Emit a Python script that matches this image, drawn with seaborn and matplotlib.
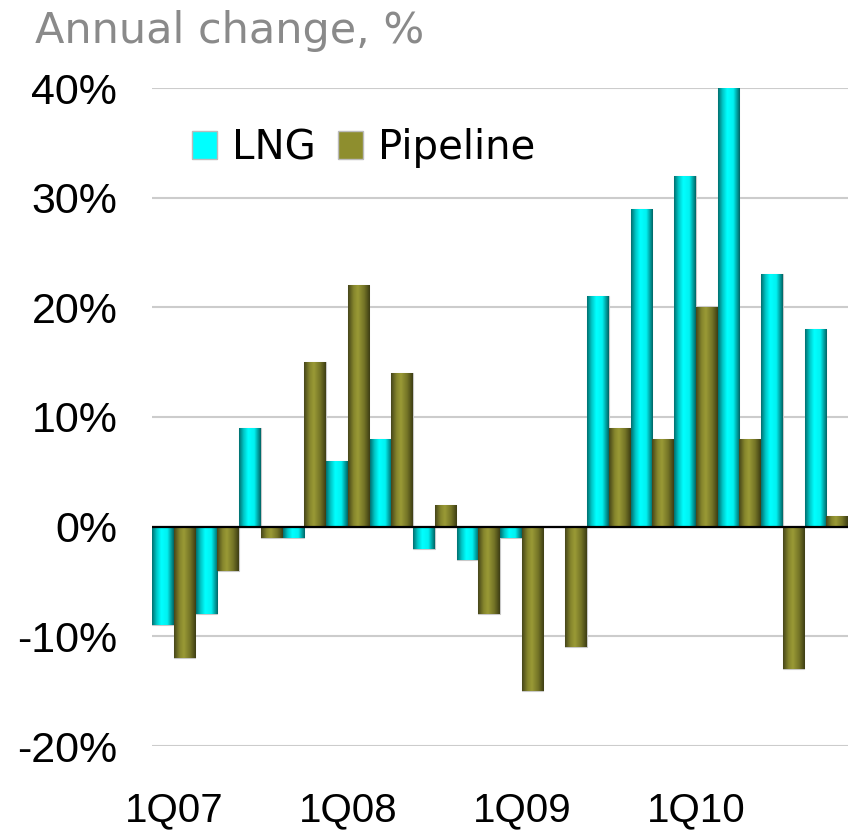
import numpy as np
import pandas as pd
import matplotlib
matplotlib.use('Agg')
import matplotlib.pyplot as plt
import seaborn as sns
from matplotlib.colors import LinearSegmentedColormap, to_rgb
from matplotlib.patches import Patch

quarters = ['1Q07', '2Q07', '3Q07', '4Q07', '1Q08', '2Q08', '3Q08', '4Q08',
            '1Q09', '2Q09', '3Q09', '4Q09', '1Q10', '2Q10', '3Q10', '4Q10']
lng = [-9, -8, 9, -1, 6, 8, -2, -3, -1, 0, 21, 29, 32, 40, 23, 18]
pipeline = [-12, -4, -1, 15, 22, 14, 2, -8, -15, -11, 9, 8, 20, 8, -13, 1]
series_names = ['LNG', 'Pipeline']
tick_positions = [0, 4, 8, 12]
tick_labels = ['1Q07', '1Q08', '1Q09', '1Q10']
yticks = [-20, -10, 0, 10, 20, 30, 40]

df = pd.DataFrame({
    'Quarter': quarters * 2,
    'Series': ['LNG'] * len(lng) + ['Pipeline'] * len(pipeline),
    'Change': lng + pipeline,
})

sns.set_style('white')
plt.rcParams['font.family'] = ['Liberation Sans', 'DejaVu Sans']
plt.rcParams['text.color'] = 'black'

base_cols = {'LNG': '#00FFFF', 'Pipeline': '#8E8E2E'}
cmaps = {
    'LNG': LinearSegmentedColormap.from_list('cy', [(0, '#007070'), (0.2, '#00C4C4'), (0.42, '#00FFFF'),
                                                    (0.7, '#00F2F2'), (1.0, '#006666')]),
    'Pipeline': LinearSegmentedColormap.from_list('ol', [(0, '#46461A'), (0.25, '#85852C'), (0.45, '#9A9A36'),
                                                         (0.75, '#737326'), (1.0, '#3E3E14')]),
}

fig = plt.figure(figsize=(8.55, 8.35), dpi=100)
ax = fig.add_axes([152 / 855, 1 - 746 / 835, 696 / 855, 658 / 835])

sns.barplot(data=df, x='Quarter', y='Change', hue='Series', hue_order=series_names,
            palette=base_cols, width=0.98, gap=0.0, saturation=1, legend=False,
            edgecolor='#c8c8c8', linewidth=0.8, ax=ax, zorder=3)

# cylindrical shading on each bar
for p in list(ax.patches):
    h = p.get_height()
    if h == 0:
        continue
    fc = np.array(p.get_facecolor()[:3])
    key = 'LNG' if np.allclose(fc, to_rgb(base_cols['LNG']), atol=0.05) else 'Pipeline'
    x0, y0, w = p.get_x(), p.get_y(), p.get_width()
    grad = np.linspace(0, 1, 64).reshape(1, -1)
    im = ax.imshow(grad, extent=[x0, x0 + w, min(y0, y0 + h), max(y0, y0 + h)],
                   cmap=cmaps[key], aspect='auto', zorder=3.2, interpolation='bilinear')
    im.set_clip_path(p)

ax.set_aspect('auto')
ax.set_xlim(-0.5, len(quarters) - 0.5)
ax.set_ylim(-20, 40)

ax.set_axisbelow(True)
ax.yaxis.grid(True, color='#cccccc', lw=1.5, zorder=0)
ax.xaxis.grid(False)
ax.axhline(0, color='black', lw=1.6, zorder=4)
for s in ax.spines.values():
    s.set_visible(False)

ax.set_yticks(yticks)
ax.set_yticklabels([f'{v}%' for v in yticks])
ax.set_xticks(tick_positions)
ax.set_xticklabels(tick_labels)
ax.tick_params(axis='both', length=0, colors='black')
ax.tick_params(axis='y', pad=25, labelsize=31)
ax.tick_params(axis='x', pad=33, labelsize=29)
ax.set_xlabel('')
ax.set_ylabel('')

handles = [Patch(facecolor=base_cols[n], edgecolor='#bbbbbb', label=n) for n in series_names]
leg = ax.legend(handles=handles, loc='center left', bbox_to_anchor=(40 / 696, (746 - 148) / 658),
                ncol=2, frameon=False, prop={'family': 'DejaVu Sans', 'size': 29},
                handlelength=0.62, handleheight=0.67, labelcolor='black',
                handletextpad=0.37, columnspacing=0.55, borderpad=0, borderaxespad=0)

fig.text(35 / 855, 1 - 43 / 835, 'Annual change, %', color='#8a8a8a', fontsize=31,
         family=['DejaVu Sans'], va='baseline', ha='left')

fig.savefig('out.png', dpi=100)
